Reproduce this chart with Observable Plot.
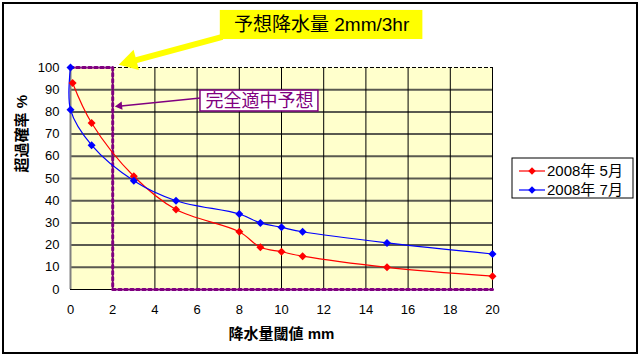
<!DOCTYPE html>
<html><head><meta charset="utf-8">
<script src="https://cdn.jsdelivr.net/npm/d3@7"></script>
<script src="https://cdn.jsdelivr.net/npm/@observablehq/plot@0.6"></script>
<style>
body{margin:0;background:#fff;}
#chart{position:relative;width:640px;height:356px;}
</style></head><body><div id="chart"></div>
<script>
// ---- data ----
const thresholdsMay = [0.1, 1, 3, 5, 8, 9, 10, 11, 15, 20];
const probMay = [93, 75, 51, 36, 26, 19, 17, 15, 10, 6];
const thresholdsJul = [0, 0, 1, 3, 5, 8, 9, 10, 11, 15, 20];
const probJul = [100, 81, 65, 49, 40, 34, 30, 28, 26, 21, 16];
const perfectX = [0, 2, 2, 20];
const perfectY = [100, 100, 0, 0];
const seriesNames = ["2008年 5月", "2008年 7月"];
const seriesColors = ["#FF0000", "#0000FF"];
const xTicks = [0, 2, 4, 6, 8, 10, 12, 14, 16, 18, 20];
const yTicks = [0, 10, 20, 30, 40, 50, 60, 70, 80, 90, 100];
const forecastLabel = "予想降水量 2mm/3hr";
const perfectLabel = "完全適中予想";
const xTitle = "降水量閾値 mm";
const yTitle = "超過確率 %";

const FONT = "'Liberation Sans', Arial, 'Noto Sans CJK JP', sans-serif";
const PURPLE = "#800080";

const rows = [
  ...thresholdsMay.map((x, i) => ({series: seriesNames[0], x, y: probMay[i]})),
  ...thresholdsJul.map((x, i) => ({series: seriesNames[1], x, y: probJul[i]}))
];
const perfect = perfectX.map((x, i) => ({x, y: perfectY[i]}));

// annotation anchors (data units)
const forecastBox = {x1: 7.1, x2: 16.7, y1: 112.6, y2: 125.7, tx: 11.9, ty: 119.1};
const forecastShaft = {x1: 7.2, y1: 113.8, x2: 2.9, y2: 102.8};
const forecastHead = {x: 2.84, y: 102.7, rotate: 255};
const perfectBox = {x1: 6.16, x2: 11.75, y1: 80.2, y2: 89.6, tx: 8.96, ty: 84.9};
const perfectShaft = {x1: 6.16, y1: 86.3, x2: 2.4, y2: 82.7};
const perfectHead = {x: 2.33, y: 82.7, rotate: 264};

const plot = Plot.plot({
  width: 640,
  height: 356,
  marginLeft: 70,
  marginRight: 148,
  marginTop: 67,
  marginBottom: 67,
  style: {fontFamily: FONT, fontSize: "13px", background: "#fff", overflow: "visible"},
  x: {domain: [0, 20]},
  y: {domain: [0, 100]},
  color: {domain: seriesNames, range: seriesColors},
  marks: [
    Plot.frame({fill: "#FFFFCC"}),
    Plot.ruleY(yTicks.filter(d => d > 0 && d < 100), {stroke: "#5a5a50", strokeWidth: 2}),
    Plot.ruleX(xTicks.filter(d => d > 0 && d < 20), {stroke: "#000", strokeWidth: 1}),
    Plot.ruleY([100], {stroke: "#000", strokeDasharray: "4,2"}),
    Plot.ruleX([20], {stroke: "#000"}),
    Plot.ruleY([0], {stroke: "#000"}),
    Plot.ruleX([0], {stroke: "#808080", strokeWidth: 2}),
    Plot.line(perfect, {x: "x", y: "y", stroke: PURPLE, strokeWidth: 3, strokeDasharray: "3,3"}),
    Plot.line(rows, {x: "x", y: "y", z: "series", stroke: "series", curve: "catmull-rom", strokeWidth: 1.2}),
    Plot.dot(rows, {x: "x", y: "y", fill: "series", symbol: "diamond2", r: 3.6}),
    Plot.axisX({ticks: xTicks, tickSize: 0, tickPadding: 15, label: null, fontSize: 13}),
    Plot.axisY({ticks: yTicks, tickSize: 0, tickPadding: 11, label: null, fontSize: 13}),
    Plot.text([xTitle], {frameAnchor: "bottom", dy: 49, fontSize: 15, fontWeight: "bold", fill: "#000"}),
    Plot.text([yTitle], {frameAnchor: "left", dx: -48, dy: -6, rotate: -90, fontSize: 15, fontWeight: "bold", fill: "#000"}),
    // forecast annotation
    Plot.link([forecastShaft], {x1: "x1", y1: "y1", x2: "x2", y2: "y2", stroke: "#FFFF00", strokeWidth: 6}),
    Plot.dot([forecastHead], {x: "x", y: "y", rotate: "rotate", symbol: "triangle2", r: 10, fill: "#FFFF00"}),
    Plot.rect([forecastBox], {x1: "x1", x2: "x2", y1: "y1", y2: "y2", fill: "#FFFF00"}),
    Plot.text([forecastBox], {x: "tx", y: "ty", text: () => forecastLabel, fontSize: 19, fill: "#000"}),
    // perfect forecast annotation
    Plot.link([perfectShaft], {x1: "x1", y1: "y1", x2: "x2", y2: "y2", stroke: PURPLE, strokeWidth: 1.5}),
    Plot.dot([perfectHead], {x: "x", y: "y", rotate: "rotate", symbol: "triangle2", r: 4, fill: PURPLE}),
    Plot.rect([perfectBox], {x1: "x1", x2: "x2", y1: "y1", y2: "y2", fill: "#fff", stroke: PURPLE, strokeWidth: 1.5}),
    Plot.text([perfectBox], {x: "tx", y: "ty", text: () => perfectLabel, fontSize: 18, fill: PURPLE})
  ]
});
document.getElementById("chart").appendChild(plot);

// outer border and legend
const svg = d3.select(plot);
svg.append("rect").attr("x", 3).attr("y", 3).attr("width", 634).attr("height", 350)
  .attr("fill", "none").attr("stroke", "#000").attr("stroke-width", 2);
const lg = svg.append("g").attr("transform", "translate(512,158)");
lg.append("rect").attr("width", 121).attr("height", 40).attr("fill", "#fff").attr("stroke", "#000").attr("stroke-width", 1);
seriesNames.forEach((name, i) => {
  const yy = 13 + i * 19;
  lg.append("line").attr("x1", 7).attr("x2", 33).attr("y1", yy).attr("y2", yy).attr("stroke", seriesColors[i]).attr("stroke-width", 1.2);
  lg.append("path").attr("d", d3.symbol(d3.symbolDiamond2, 36)()).attr("transform", `translate(20,${yy})`).attr("fill", seriesColors[i]);
  lg.append("text").attr("x", 35).attr("y", yy).attr("dy", "0.35em").attr("text-anchor", "start")
    .attr("font-size", 15).attr("fill", "#000").text(name);
});
</script></body></html>
